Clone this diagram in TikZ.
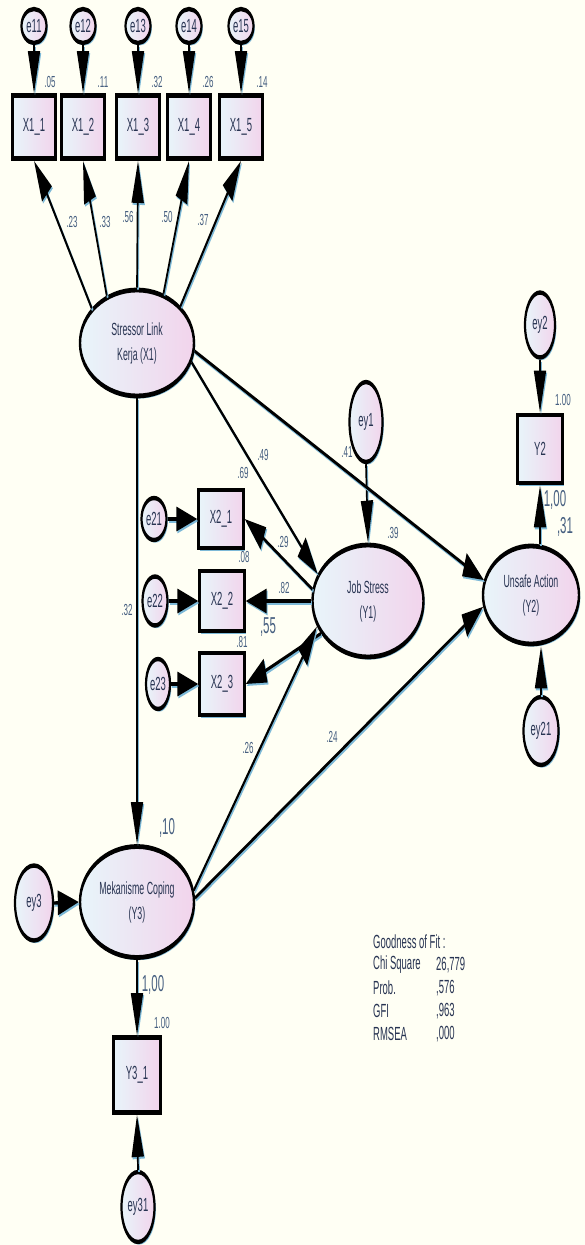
\documentclass[tikz,border=0pt]{standalone}
\usepackage{fontspec}
\setmainfont{Liberation Sans}
\usetikzlibrary{arrows.meta,shapes.geometric,shadows}

\definecolor{paper}{RGB}{255,255,244}
\definecolor{ink}{RGB}{40,52,82}
\definecolor{numink}{RGB}{70,95,128}
\definecolor{rim}{RGB}{125,185,215}
\definecolor{fillL}{RGB}{232,245,250}
\definecolor{fillR}{RGB}{242,212,236}

\tikzset{
  shapebase/.style={draw=black, line width=2.4pt, inner sep=0pt, text=ink,
    left color=fillL, right color=fillR,
    drop shadow={shadow xshift=1.3pt, shadow yshift=-1.3pt, fill=rim, opacity=1}},
  latent/.style={shapebase, ellipse, align=center,
    font=\fontsize{8.8}{12.5}\selectfont},
  errvar/.style={shapebase, ellipse, line width=2.2pt,
    font=\fontsize{9.5}{11}\selectfont},
  observed/.style={shapebase, rectangle, font=\fontsize{9.5}{11}\selectfont,
    minimum width=43pt, minimum height=31.5pt},
  conn/.style={draw=black, line width=1.7pt,
    -{Triangle[length=21pt,width=12pt]},
    preaction={draw=rim, line width=1.7pt, transform canvas={shift={(1pt,-1pt)}}}},
  est/.style={text=numink, inner sep=0pt, font=\fontsize{8}{9}\selectfont},
  bigest/.style={text=numink, inner sep=0pt, font=\fontsize{11.5}{12}\selectfont},
  fitline/.style={text=ink, inner sep=0pt, anchor=west, font=\fontsize{9.5}{10}\selectfont}
}

\begin{document}
\begin{tikzpicture}[x=1pt,y=1pt]
\useasboundingbox (0,0) rectangle (585,-1245);
\fill[paper] (0,0) rectangle (585,-1245);

% the path model is laid out flat and stretched vertically onto the page
\begin{scope}[transform canvas={yscale=2}, y=-0.5pt]

% exogenous factor and its indicators
\node[latent, minimum width=114pt, minimum height=53pt] (SL) at (137,343) {Stressor Link\\Kerja (X1)};
\foreach \i/\x in {1/34, 2/83, 3/138, 4/189, 5/241} {
  \node[observed] (X1\i) at (\x,127) {X1\_\i};
  \node[errvar, minimum width=25pt, minimum height=17pt] (e1\i) at (\x,26) {e1\i};
  \draw[conn] (e1\i.south) -- (X1\i.north);
}
\draw[conn] (SL.159) -- (X11.south);
\draw[conn] (SL.142) -- (X12.south);
\draw[conn] (SL.90)  -- (X13.south);
\draw[conn] (SL.43)  -- (X14.south);
\draw[conn] (SL.23)  -- (X15.south);

% job stress and its indicators
\node[latent, minimum width=111pt, minimum height=56pt] (Y1) at (368,601) {Job Stress\\(Y1)};
\node[errvar, minimum width=33pt, minimum height=40pt] (ey1) at (366,422) {ey1};
\node[observed, minimum width=45pt, minimum height=29pt] (X21) at (221,519) {X2\_1};
\node[observed, minimum width=45pt, minimum height=30pt] (X22) at (222,601) {X2\_2};
\node[observed, minimum width=45pt, minimum height=31pt] (X23) at (222,684) {X2\_3};
\node[errvar, minimum width=25pt, minimum height=21pt] (e21) at (154,519) {e21};
\node[errvar, minimum width=25pt, minimum height=24.5pt] (e22) at (155,601) {e22};
\node[errvar, minimum width=24pt, minimum height=25pt] (e23) at (158,684) {e23};
\draw[conn] (e21.east) -- (X21.west);
\draw[conn] (e22.east) -- (X22.west);
\draw[conn] (e23.east) -- (X23.west);
\draw[conn] (Y1.174) -- (X21.east);
\draw[conn] (Y1.west) -- (X22.east);
\draw[conn] (Y1.199) -- (X23.east);
\draw[conn] (ey1.south) -- (Y1.north);

% unsafe action and its indicator
\node[latent, minimum width=96pt, minimum height=49pt] (Y2) at (531,595) {Unsafe Action\\(Y2)};
\node[observed, minimum width=45pt, minimum height=34pt] (Y2b) at (540,449) {Y2};
\node[errvar, minimum width=30pt, minimum height=32.5pt] (ey2) at (540,325) {ey2};
\node[errvar, minimum width=35pt, minimum height=34pt] (ey21) at (541,731) {ey21};
\draw[conn] (ey2.south) -- (Y2b.north);
\draw[conn] (Y2.north -| Y2b.south) -- (Y2b.south);
\draw[conn] (ey21.north) -- (Y2.south -| ey21.north);

% coping and its indicator
\node[latent, minimum width=114pt, minimum height=55.5pt] (Y3) at (137,902) {Mekanisme Coping\\(Y3)};
\node[errvar, minimum width=38pt, minimum height=37.5pt] (ey3) at (34,903) {ey3};
\node[observed, minimum width=47pt, minimum height=37.5pt] (Y31) at (137,1075) {Y3\_1};
\node[errvar, minimum width=33pt, minimum height=35pt] (ey31) at (138,1207) {ey31};
\draw[conn] (ey3.east) -- (Y3.west);
\draw[conn] (Y3.south) -- (Y31.north);
\draw[conn] (ey31.north) -- (Y31.south);

% structural paths
\draw[conn] (SL.south) -- (Y3.north);
\draw[conn] (SL.-10) -- (Y1.165);
\draw[conn] (SL.-4) -- (Y2.171);
\draw[conn] (Y3.6) -- (Y1.194);
\draw[conn] (Y3.2) -- (Y2.187);

% estimates
\node[est] (r11) at (50,82) {.05};
\node[est] (r12) at (103,82) {.11};
\node[est] (r13) at (157,82) {.32};
\node[est] (r14) at (208,82) {.26};
\node[est] (r15) at (262,82) {.14};
\node[est] (l11) at (72,222) {.23};
\node[est] (l12) at (105,222) {.33};
\node[est] (l13) at (128,217) {.56};
\node[est] (l14) at (167,217) {.50};
\node[est] (l15) at (203,220) {.37};
\node[est] (p1) at (263,455) {.49};
\node[est] (p2) at (243,473) {.69};
\node[est] (p3) at (347,452) {.41};
\node[est] (rY1) at (393,533) {.39};
\node[est] (l21) at (283,542) {.29};
\node[est] (r21) at (244,557) {.08};
\node[est] (l22) at (284,588) {.82};
\node[est] (r22) at (242,642) {.81};
\node[bigest] (l23) at (268,627) {,55};
\node[est] (p4) at (127,610) {.32};
\node[est] (p5) at (248,748) {.26};
\node[est] (p6) at (332,737) {.24};
\node[bigest] (rY3) at (167,828) {,10};
\node[bigest] (l31) at (153,985) {1,00};
\node[est] (r31) at (162,1023) {1.00};
\node[est] (r2b) at (563,400) {1.00};
\node[bigest] (l2b) at (555,500) {1,00};
\node[bigest] (rY2) at (565,527) {,31};

% fit summary
\node[fitline] (g0) at (373,942) {Goodness of Fit :};
\node[fitline] (g1) at (373,965) {Chi Square};
\node[fitline] (v1) at (436,965) {26,779};
\node[fitline] (g2) at (373,988) {Prob.};
\node[fitline] (v2) at (436,988) {,576};
\node[fitline] (g3) at (373,1011) {GFI};
\node[fitline] (v3) at (436,1011) {,963};
\node[fitline] (g4) at (373,1034) {RMSEA};
\node[fitline] (v4) at (436,1034) {,000};
\end{scope}
\end{tikzpicture}
\end{document}
